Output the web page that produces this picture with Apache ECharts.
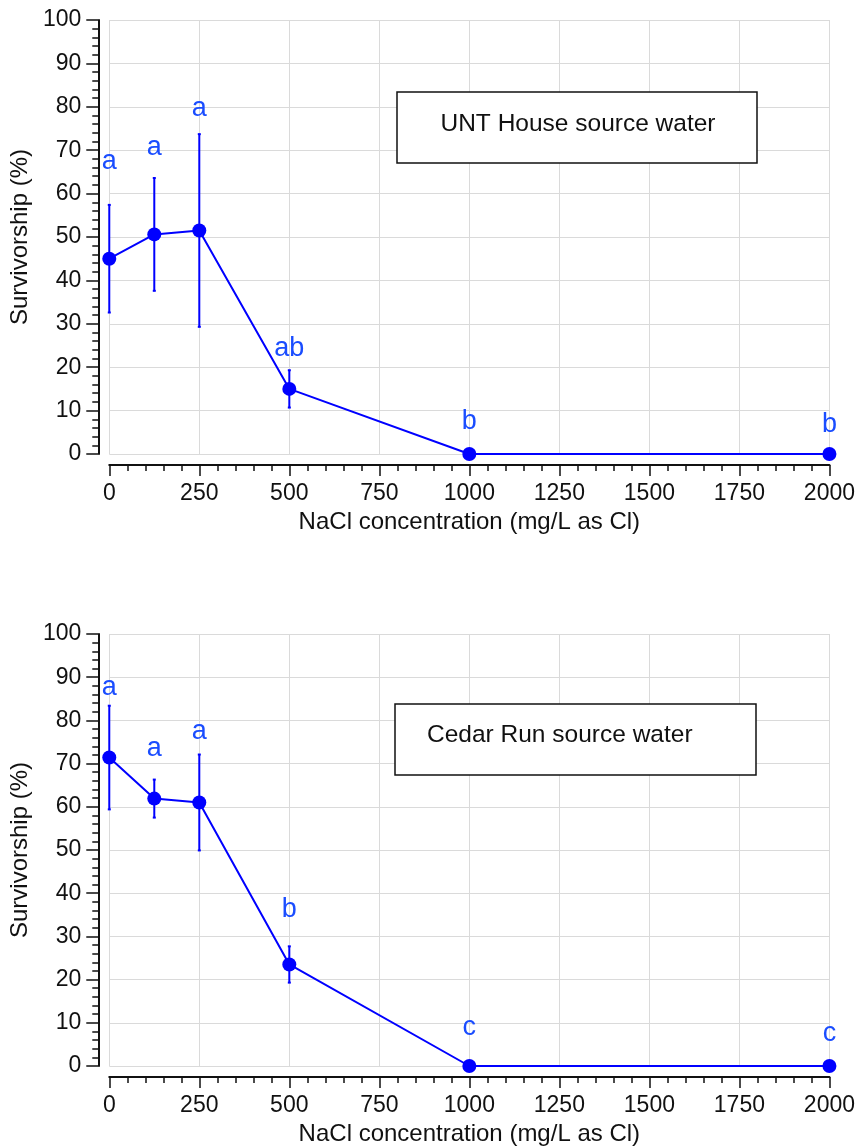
<!DOCTYPE html>
<html>
<head>
<meta charset="utf-8">
<script src="https://cdn.jsdelivr.net/npm/echarts@6/dist/echarts.min.js"></script>
<style>
html,body{margin:0;padding:0;background:#fff;}
#chart{width:858px;height:1147px;}
</style>
</head>
<body>
<div id="chart"></div>
<script>
// ---- data ----
const concentrations = [0, 125, 250, 500, 1000, 2000];
const xTicks = [0, 250, 500, 750, 1000, 1250, 1500, 1750, 2000];
const yTicks = [0, 10, 20, 30, 40, 50, 60, 70, 80, 90, 100];

const untMean = [45, 50.6, 51.5, 15, 0, 0];
const untErr = [12.4, 13.0, 22.2, 4.3, 0, 0];
const untLetters = ['a', 'a', 'a', 'ab', 'b', 'b'];
const untLetterY = [67.5, 70.5, 79.5, 24.4, 7.4, 6.7];

const cedarMean = [71.4, 61.9, 61.0, 23.5, 0, 0];
const cedarErr = [12.0, 4.4, 11.1, 4.2, 0, 0];
const cedarLetters = ['a', 'a', 'a', 'b', 'c', 'c'];
const cedarLetterY = [87.6, 73.5, 77.4, 36.2, 8.8, 7.6];

const titles = ['UNT House source water', 'Cedar Run source water'];
const xName = 'NaCl concentration (mg/L as Cl)';
const yName = 'Survivorship (%)';

// ---- styling ----
const FONT = '"Liberation Sans", Arial, Helvetica, sans-serif';
const BLUE = '#0000ff';
const LETTER = '#1a4dff';
const GRIDC = '#dadada';

const chart = echarts.init(document.getElementById('chart'), null, {renderer: 'canvas'});

function xAxisCfg(gi) {
  return {
    type: 'value', gridIndex: gi, min: xTicks[0], max: xTicks[xTicks.length - 1],
    interval: xTicks[1] - xTicks[0], offset: 11,
    name: xName, nameLocation: 'middle', nameGap: 45,
    nameTextStyle: {fontFamily: FONT, fontSize: 24, color: '#111'},
    axisLine: {show: true, onZero: false, lineStyle: {color: '#111', width: 2}},
    axisTick: {show: true, length: 11, lineStyle: {color: '#111', width: 1.5}},
    minorTick: {show: true, splitNumber: 5, length: 6, lineStyle: {color: '#111', width: 1.5}},
    axisLabel: {fontFamily: FONT, fontSize: 23, color: '#111', margin: 17,
      formatter: function (v) { return String(v); }},
    splitLine: {show: true, lineStyle: {color: GRIDC, width: 1}}
  };
}
function yAxisCfg(gi) {
  return {
    type: 'value', gridIndex: gi, min: yTicks[0], max: yTicks[yTicks.length - 1],
    interval: yTicks[1] - yTicks[0], offset: 11,
    name: yName, nameLocation: 'middle', nameGap: 61,
    nameTextStyle: {fontFamily: FONT, fontSize: 24, color: '#111'},
    axisLine: {show: true, onZero: false, lineStyle: {color: '#111', width: 2}},
    axisTick: {show: true, length: 12, lineStyle: {color: '#111', width: 1.5}},
    minorTick: {show: true, splitNumber: 5, length: 6, lineStyle: {color: '#111', width: 1.5}},
    axisLabel: {fontFamily: FONT, fontSize: 23, color: '#111', margin: 17,
      formatter: function (v) { return String(v); }},
    splitLine: {show: true, lineStyle: {color: GRIDC, width: 1}}
  };
}

function seriesFor(gi, mean, err, letters, letterY) {
  const lineData = concentrations.map((x, i) => [x, mean[i]]);
  const errData = concentrations.map((x, i) => [x, mean[i] - err[i], mean[i] + err[i]]);
  const letterData = concentrations.map((x, i) => [x, letterY[i]]);
  return [
    {
      type: 'custom', xAxisIndex: gi, yAxisIndex: gi, data: errData, clip: false, z: 3,
      renderItem: function (params, api) {
        if (api.value(2) - api.value(1) <= 0) return null;
        const lo = api.coord([api.value(0), api.value(1)]);
        const hi = api.coord([api.value(0), api.value(2)]);
        const st = {stroke: BLUE, lineWidth: 2};
        return {
          type: 'group', children: [
            {type: 'line', shape: {x1: lo[0], y1: lo[1], x2: hi[0], y2: hi[1]}, style: st},
            {type: 'line', shape: {x1: lo[0] - 1.5, y1: lo[1], x2: lo[0] + 1.5, y2: lo[1]}, style: st},
            {type: 'line', shape: {x1: hi[0] - 1.5, y1: hi[1], x2: hi[0] + 1.5, y2: hi[1]}, style: st}
          ]
        };
      }
    },
    {
      type: 'line', xAxisIndex: gi, yAxisIndex: gi, data: lineData, clip: false, z: 4,
      symbol: 'circle', symbolSize: 14, showSymbol: true,
      lineStyle: {color: BLUE, width: 2}, itemStyle: {color: BLUE}
    },
    {
      type: 'custom', xAxisIndex: gi, yAxisIndex: gi, data: letterData, clip: false, z: 5,
      renderItem: function (params, api) {
        const p = api.coord([api.value(0), api.value(1)]);
        return {
          type: 'text',
          style: {
            text: letters[params.dataIndex], x: p[0], y: p[1],
            align: 'center', verticalAlign: 'middle',
            fill: LETTER, font: '27px ' + FONT
          }
        };
      }
    }
  ];
}

const option = {
  backgroundColor: '#fff',
  animation: false,
  grid: [
    {left: 108, top: 20, width: 722, height: 434},
    {left: 108, top: 634, width: 722, height: 434}
  ],
  xAxis: [xAxisCfg(0), xAxisCfg(1)],
  yAxis: [yAxisCfg(0), yAxisCfg(1)],
  series: [].concat(
    seriesFor(0, untMean, untErr, untLetters, untLetterY),
    seriesFor(1, cedarMean, cedarErr, cedarLetters, cedarLetterY)
  ),
  graphic: [
    {type: 'rect', shape: {x: 397, y: 92, width: 360, height: 71}, style: {fill: '#fff', stroke: '#111', lineWidth: 1.5}, z: 10},
    {type: 'text', x: 578, y: 124, style: {text: titles[0], font: '24.5px ' + FONT, fill: '#111', align: 'center', verticalAlign: 'middle'}, z: 11},
    {type: 'rect', shape: {x: 395, y: 704, width: 361, height: 71}, style: {fill: '#fff', stroke: '#111', lineWidth: 1.5}, z: 10},
    {type: 'text', x: 427, y: 735, style: {text: titles[1], font: '24.5px ' + FONT, fill: '#111', align: 'left', verticalAlign: 'middle'}, z: 11}
  ]
};
chart.setOption(option);
</script>
</body>
</html>
